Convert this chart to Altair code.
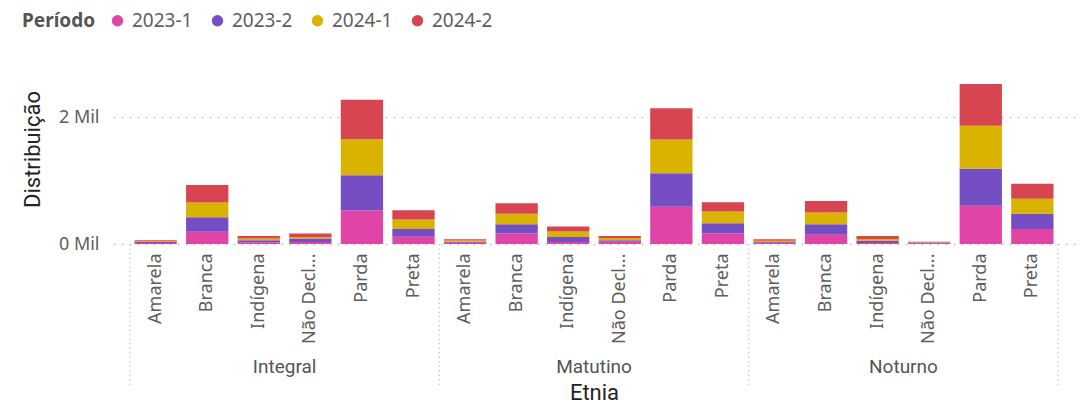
import altair as alt
import pandas as pd

turnos = ["Integral", "Matutino", "Noturno"]
etnias = ["Amarela", "Branca", "Indígena", "Não Declarado", "Parda", "Preta"]
periodos = ["2023-1", "2023-2", "2024-1", "2024-2"]
cores = ["#E044A7", "#744EC2", "#D9B300", "#D64550"]

# values per period, ordered turno-major (Integral, Matutino, Noturno) x etnias
v_2023_1 = [15, 195, 27, 32, 529, 116, 18, 164, 32, 37, 587, 164, 18, 148, 16, 5, 603, 238]
v_2023_2 = [15, 227, 32, 53, 556, 122, 18, 148, 79, 21, 529, 164, 15, 164, 37, 12, 587, 238]
v_2024_1 = [15, 232, 27, 27, 567, 148, 18, 164, 85, 37, 534, 185, 20, 185, 27, 5, 677, 238]
v_2024_2 = [15, 276, 42, 53, 624, 148, 20, 169, 79, 32, 492, 148, 21, 180, 48, 15, 661, 238]
valores = [v_2023_1, v_2023_2, v_2024_1, v_2024_2]

keys = [f"{t}|{e}" for t in turnos for e in etnias]
rows = []
for pi, p in enumerate(periodos):
    for ki, k in enumerate(keys):
        rows.append({"key": k, "periodo": p, "ord": pi, "valor": valores[pi][ki]})
df = pd.DataFrame(rows)

grupos = pd.DataFrame({"turno": turnos, "key": [f"{t}|Não Declarado" for t in turnos]})
seps = pd.DataFrame({"key": [f"{t}|Amarela" for t in turnos]})
sep_end = pd.DataFrame({"key": [keys[-1]]})

W, H = 962, 190
xscale = alt.Scale(domain=keys, paddingInner=0.18, paddingOuter=0.417)

label_expr = ("length(split(datum.label,'|')[1]) > 10 ? "
              "substring(split(datum.label,'|')[1],0,8) + '...' : split(datum.label,'|')[1]")

xaxis = alt.Axis(title="Etnia", labelAngle=-90, labelExpr=label_expr, ticks=False,
                 domain=False, labelPadding=9, labelFontSize=18, labelColor="#605E5C",
                 labelFont="Noto Sans", labelLimit=200,
                 titleFont="Roboto", titleFontSize=22, titleFontWeight="normal",
                 titleColor="#252423", titlePadding=39)

bars = alt.Chart(df).mark_bar().encode(
    x=alt.X("key:N", sort=keys, scale=xscale, axis=xaxis),
    y=alt.Y("valor:Q", stack="zero", scale=alt.Scale(domain=[0, 3000], nice=False),
            axis=alt.Axis(title="Distribuição", values=[0, 2000],
                          labelExpr="datum.value/1000 + ' Mil'", grid=True,
                          gridDash=[2, 6], gridColor="#C8C6C4", gridWidth=1.5,
                          ticks=False, domain=False, labelPadding=14, labelFontSize=18,
                          labelColor="#605E5C", labelFont="Noto Sans",
                          titleFont="Roboto", titleFontSize=22, titleFontWeight="normal",
                          titleColor="#252423", titlePadding=14)),
    color=alt.Color("periodo:N", scale=alt.Scale(domain=periodos, range=cores),
                    legend=alt.Legend(title="Período", orient="none", legendX=-91, legendY=-43,
                                      direction="horizontal", titleOrient="left",
                                      titleFont="Noto Sans", titleFontSize=19,
                                      titleFontWeight="bold", titleColor="#555555",
                                      titlePadding=12, labelFont="Noto Sans",
                                      labelFontSize=19, labelColor="#605E5C",
                                      symbolType="circle", symbolSize=130,
                                      symbolStrokeWidth=0, labelOffset=5, columnPadding=15)),
    order=alt.Order("ord:Q", sort="ascending"),
)

textos = alt.Chart(grupos).mark_text(font="Roboto", fontSize=19, color="#555555",
                                     dx=-4.6, baseline="middle").encode(
    x=alt.X("key:N", sort=keys, scale=xscale, bandPosition=0, axis=xaxis),
    y=alt.value(H + 123),
    text="turno:N",
)

regras = alt.Chart(seps).mark_rule(color="#C8C6C4", strokeDash=[1.5, 3], strokeWidth=1.2,
                                   xOffset=-4.6).encode(
    x=alt.X("key:N", sort=keys, scale=xscale, bandPosition=0, axis=xaxis),
    y=alt.value(H),
    y2=alt.value(H + 141),
)
regra_fim = alt.Chart(sep_end).mark_rule(color="#C8C6C4", strokeDash=[1.5, 3], strokeWidth=1.2,
                                         xOffset=4.6).encode(
    x=alt.X("key:N", sort=keys, scale=xscale, bandPosition=1, axis=xaxis),
    y=alt.value(H),
    y2=alt.value(H + 141),
)

chart = alt.layer(regras, regra_fim, bars, textos).properties(
    width=W, height=H,
    autosize=alt.AutoSizeParams(type="none"),
    padding={"left": 105, "top": 46, "right": 2, "bottom": 163},
).configure_view(stroke=None)

chart.save("out.html", embed_options={"renderer": "svg", "actions": False})
